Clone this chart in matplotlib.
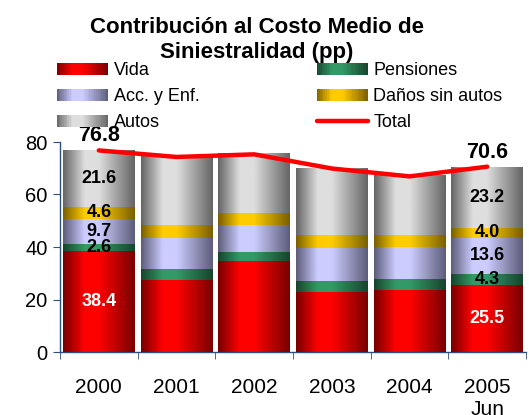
import numpy as np
import matplotlib
matplotlib.use("Agg")
import matplotlib.pyplot as plt
from matplotlib.colors import LinearSegmentedColormap
from matplotlib.legend_handler import HandlerBase
from matplotlib.patches import Rectangle, Patch
from matplotlib.lines import Line2D

plt.rcParams['font.family'] = ['Liberation Sans', 'DejaVu Sans']

# data (pp)
years = ["2000", "2001", "2002", "2003", "2004", "2005\nJun"]
vida = [38.4, 27.3, 34.5, 22.9, 23.5, 25.5]
pensiones = [2.6, 4.2, 3.5, 4.0, 4.2, 4.3]
acc_enf = [9.7, 11.8, 10.3, 12.7, 12.2, 13.6]
danos = [4.6, 5.0, 4.5, 4.8, 4.5, 4.0]
autos = [21.6, 26.0, 22.5, 25.5, 22.5, 23.2]
total = [76.8, 74.3, 75.3, 69.9, 66.9, 70.6]
labeled = [0, 5]  # bars with value labels

series = [
    ("Vida", vida, "#7a0000", "#ff0000", "white"),
    ("Pensiones", pensiones, "#17452d", "#339966", "black"),
    ("Acc. y Enf.", acc_enf, "#5e5e7c", "#ccccff", "black"),
    ("Daños sin autos", danos, "#7a6000", "#ffcc00", "black"),
    ("Autos", autos, "#666666", "#dedede", "black"),
]


def profile(t):
    return np.interp(t, [0, 0.3, 0.5, 1], [0, 1, 1, 0])


class GradHandler(HandlerBase):
    def __init__(self, cmap):
        super().__init__()
        self.cmap = cmap

    def create_artists(self, legend, orig_handle, xdescent, ydescent,
                       width, height, fontsize, trans):
        n = 30
        arts = []
        for i in range(n):
            r = Rectangle((-xdescent + i * width / n, -ydescent), width / n * 1.1, height,
                          facecolor=self.cmap(profile((i + 0.5) / n)), edgecolor="none",
                          transform=trans)
            arts.append(r)
        return arts


fig = plt.figure(figsize=(5.29, 4.15), dpi=100)
ax = fig.add_axes([60 / 529, 1 - 352 / 415, 466 / 529, 210 / 415])

x = np.arange(len(years))
bottom = np.zeros(len(years))
grad = profile(np.linspace(0, 1, 64))[None, :]
handles, hmap = [], {}
for name, vals, edge, center, tcol in series:
    cmap = LinearSegmentedColormap.from_list(name, [edge, center])
    bars = ax.bar(x, vals, bottom=bottom, width=0.92, color=center, linewidth=0, zorder=2)
    for r in bars:
        x0, y0 = r.get_x(), r.get_y()
        ax.imshow(grad, cmap=cmap, vmin=0, vmax=1, aspect="auto", interpolation="bilinear",
                  extent=[x0, x0 + r.get_width(), y0, y0 + r.get_height()], zorder=3)
    for i in labeled:
        ax.text(x[i], bottom[i] + vals[i] / 2, f"{vals[i]:.1f}", ha="center", va="center",
                color=tcol, fontsize=13, fontweight="bold", zorder=6)
    h = Patch(label=name)
    handles.append(h)
    hmap[h] = GradHandler(cmap)
    bottom += np.array(vals)

ax.plot(x, total, color="#ff0000", lw=3.2, solid_capstyle="round", zorder=5, clip_on=False)
for i in labeled:
    ax.annotate(f"{total[i]:.1f}", (x[i], total[i]), xytext=(0, 3), textcoords="offset points",
                ha="center", va="bottom", fontsize=15.5, fontweight="bold", zorder=6,
                annotation_clip=False)

ax.set_xlim(-0.5, len(years) - 0.5)
ax.set_ylim(0, 80)
ax.set_yticks([0, 20, 40, 60, 80])
ax.set_xticks(x)
ax.set_xticklabels(years)
ax.set_xticks(np.arange(len(years) + 1) - 0.5, minor=True)
ax.tick_params(axis="x", which="major", length=0, pad=19, labelsize=15)
ax.tick_params(axis="x", which="minor", length=5, color="#2f4f7f", direction="out")
ax.tick_params(axis="y", length=5, color="#2f4f7f", labelsize=14.5, pad=4)
for s in ["top", "right"]:
    ax.spines[s].set_visible(False)
for s in ["left", "bottom"]:
    ax.spines[s].set_color("#2f4f7f")
    ax.spines[s].set_linewidth(1.0)

# legend: vida, acc, autos | pensiones, daños, total
order = [0, 2, 4, 1, 3]
leg_handles = [handles[i] for i in order]
line_h = Line2D([], [], color="#ff0000", lw=3.2, solid_capstyle="round", label="Total")
leg_handles.append(line_h)
fig.legend(handles=leg_handles, ncol=2, loc="upper left", bbox_to_anchor=(57 / 529, 1 - 62 / 415),
           frameon=False, fontsize=13, handler_map=hmap, handlelength=2.83, handleheight=0.65,
           handletextpad=0.3, labelspacing=0.5, columnspacing=6.5, borderpad=0, borderaxespad=0)

fig.text(257 / 529, 1 - 40 / 415, "Contribución al Costo Medio de\nSiniestralidad (pp)",
         ha="center", va="center", fontsize=16, fontweight="bold", linespacing=1.3)

fig.savefig("out.png", dpi=100)
